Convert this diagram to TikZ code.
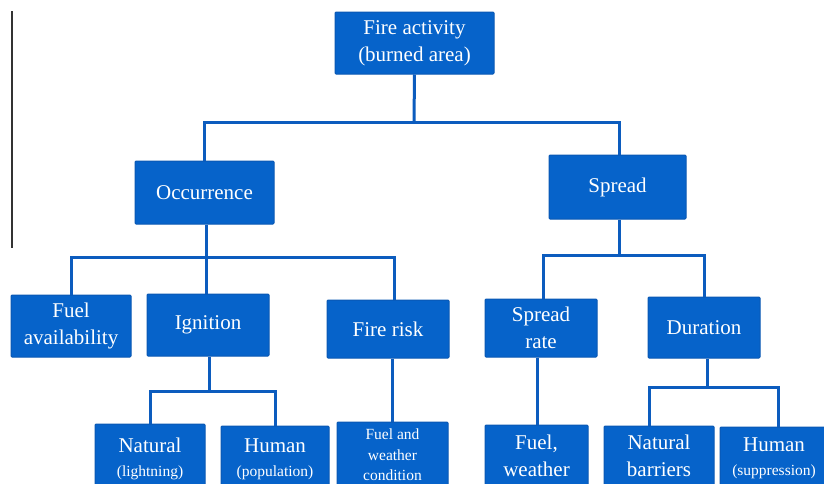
\documentclass[tikz,border=0pt]{standalone}
\usepackage{fontspec}
\setmainfont{Liberation Serif}
\newfontfamily\boxfont{Liberation Serif}
\definecolor{boxblue}{RGB}{6,99,202}
\definecolor{boxedge}{RGB}{10,88,180}
\definecolor{lineblue}{RGB}{12,92,190}
\begin{document}
\begin{tikzpicture}[x=1pt,y=-1pt,
  box/.style={draw=boxedge,line width=1pt,fill=boxblue,text=white,align=center,
    inner sep=0pt,font=\boxfont\fontsize{21}{27}\selectfont,rounded corners=1pt},
  conn/.style={draw=lineblue,line width=3pt}]
\clip (0,0) rectangle (824,483);
\fill[white] (0,0) rectangle (824,483);
\draw[black!80,line width=1.2pt] (12,11) -- (12,248);

\node[box,minimum width=159,minimum height=62] (top) at (414.5,43) {Fire activity\\(burned area)};
\node[box,minimum width=139,minimum height=63] (occ) at (204.5,192.5) {Occurrence};
\node[box,minimum width=137,minimum height=64] (spr) at (617.5,187) {Spread};

\node[box,minimum width=120,minimum height=62] (fuel) at (71,326) {Fuel\\availability};
\node[box,minimum width=122,minimum height=62] (ign) at (208,325) {Ignition};
\node[box,minimum width=122,minimum height=58] (risk) at (388,329) {Fire risk};
\node[box,minimum width=112,minimum height=58] (rate) at (541,328) {Spread\\rate};
\node[box,minimum width=112,minimum height=61] (dur) at (704,327.5) {Duration};

\node[box,minimum width=110,minimum height=70] (nat) at (150,459) {Natural\\[-3pt]{\fontsize{15.5}{18}\selectfont(lightning)}};
\node[box,minimum width=108,minimum height=66] (hum) at (275,459) {Human\\[-3pt]{\fontsize{15.5}{18}\selectfont(population)}};
\node[box,minimum width=111,minimum height=66,font=\boxfont\fontsize{15.5}{20.5}\selectfont] (fw) at (392.5,455) {Fuel and\\weather\\condition};
\node[box,minimum width=103,minimum height=62] (fw2) at (536.5,456) {Fuel,\\weather};
\node[box,minimum width=110,minimum height=60] (nb) at (659,456) {Natural\\barriers};
\node[box,minimum width=108,minimum height=62] (hs) at (774,458) {Human\\[-3pt]{\fontsize{15.5}{18}\selectfont(suppression)}};

% connectors
\coordinate (j1) at (414,122);
\draw[conn] (top.south) -- (j1);
\draw[conn] (j1) -| (occ.north);
\draw[conn] (j1) -| ([xshift=1.5]spr.north);

\coordinate (j2) at (206,257);
\draw[conn] (occ.south -| j2) -- (j2);
\draw[conn] (j2) -| (fuel.north);
\draw[conn] (j2) -- (ign.north -| j2);
\draw[conn] (j2) -| ([xshift=6]risk.north);

\coordinate (j3) at (619,255);
\draw[conn] ([xshift=1.5]spr.south) -- (j3);
\draw[conn] (j3) -| ([xshift=2]rate.north);
\draw[conn] (j3) -| (dur.north);

\coordinate (j4) at (209,391);
\draw[conn] (ign.south -| j4) -- (j4);
\draw[conn] (j4) -| (nat.north);
\draw[conn] (j4) -| (hum.north);

\draw[conn] ([xshift=4]risk.south) -- ([xshift=4]risk.south |- fw.north);
\draw[conn] ([xshift=-4]rate.south) -- ([xshift=-4]rate.south |- fw2.north);

\coordinate (j5) at (707,387);
\draw[conn] (dur.south -| j5) -- (j5);
\draw[conn] (j5) -| ([xshift=-10]nb.north);
\draw[conn] (j5) -| ([xshift=4]hs.north);
\end{tikzpicture}
\end{document}
